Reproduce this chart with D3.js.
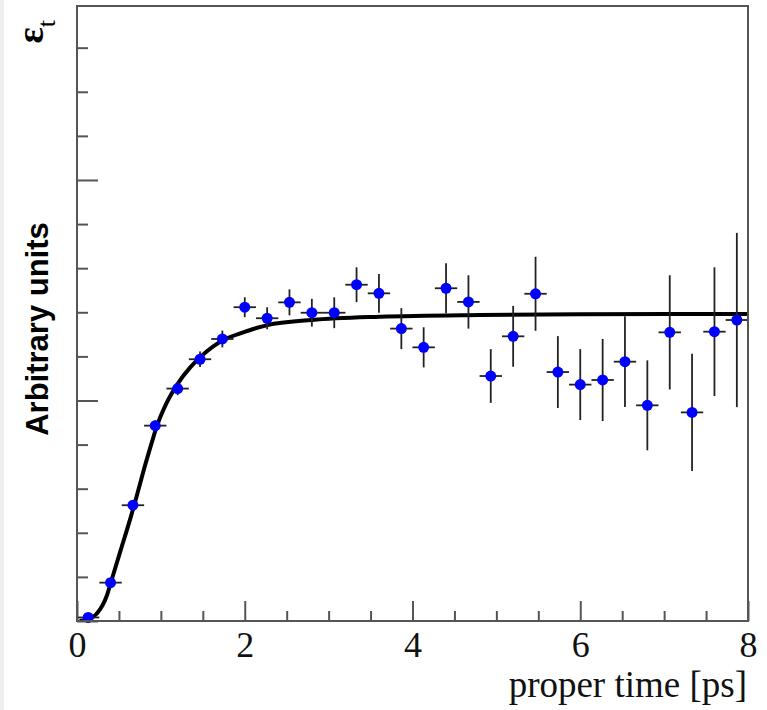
<!DOCTYPE html>
<html>
<head>
<meta charset="utf-8">
<script src="https://cdn.jsdelivr.net/npm/d3@7/dist/d3.min.js"></script>
<style>
  html, body { margin: 0; padding: 0; background: #fff; }
  svg { display: block; }
</style>
</head>
<body>
<svg id="chart" width="767" height="710"></svg>
<script>
// ---- data ----
const timeCenters = [0.133, 0.400, 0.667, 0.933, 1.200, 1.467, 1.733, 2.000, 2.267, 2.533,
                     2.800, 3.067, 3.333, 3.600, 3.867, 4.133, 4.400, 4.667, 4.933, 5.200,
                     5.467, 5.733, 6.000, 6.267, 6.533, 6.800, 7.067, 7.333, 7.600, 7.867];
const efficiency = [0.016, 0.174, 0.525, 0.886, 1.054, 1.187, 1.279, 1.423, 1.373, 1.445,
                    1.398, 1.398, 1.525, 1.486, 1.326, 1.241, 1.509, 1.447, 1.111, 1.291,
                    1.484, 1.129, 1.072, 1.093, 1.176, 0.978, 1.309, 0.946, 1.312, 1.365];
const efficiencyErr = [0.005, 0.012, 0.018, 0.024, 0.030, 0.035, 0.038, 0.045, 0.050, 0.059,
                       0.063, 0.070, 0.079, 0.088, 0.093, 0.091, 0.113, 0.121, 0.122, 0.138,
                       0.168, 0.163, 0.161, 0.186, 0.206, 0.204, 0.259, 0.266, 0.292, 0.395];
const binHalfWidth = 0.1333;

const fitTime  = [0.03, 0.12, 0.24, 0.36, 0.40, 0.52, 0.64, 0.70, 0.80, 0.90, 0.94, 1.07,
                  1.19, 1.35, 1.48, 1.75, 1.99, 2.15, 2.27, 2.80, 3.61, 4.80, 6.00, 8.00];
const fitValue = [0.000, 0.006, 0.035, 0.120, 0.170, 0.320, 0.470, 0.550, 0.690, 0.820, 0.870, 0.990,
                  1.070, 1.150, 1.200, 1.275, 1.310, 1.330, 1.342, 1.365, 1.380, 1.388, 1.391, 1.392];

const xMajorTicks = [0, 2, 4, 6, 8];
const xMinorTicks = [0.5, 1, 1.5, 2.5, 3, 3.5, 4.5, 5, 5.5, 6.5, 7, 7.5];
const yMajorTicks = [0, 1, 2];
const yMinorTicks = [0.2, 0.4, 0.6, 0.8, 1.2, 1.4, 1.6, 1.8, 2.2, 2.4, 2.6];

const xTitle = "proper time [ps]";
const yTitle = "Arbitrary units";

// ---- layout ----
const svg = d3.select("#chart");
const plotLeft = 77, plotRight = 748, plotTop = 6, plotBottom = 621;
const axisColor = "#555555";

const x = d3.scaleLinear().domain([0, 8]).range([plotLeft, plotRight]);
const y = d3.scaleLinear().domain([0, 2.789]).range([plotBottom, plotTop]);

// faint scan strip at the far left edge
svg.append("rect").attr("x", 0).attr("y", 0).attr("width", 4).attr("height", 710)
   .attr("fill", "#eeeeee");

// clip
svg.append("clipPath").attr("id", "plotclip")
   .append("rect").attr("x", plotLeft).attr("y", plotTop)
   .attr("width", plotRight - plotLeft).attr("height", plotBottom - plotTop);

// ---- axes (ticks inside frame) ----
function styleAxis(g) {
  g.select(".domain").remove();
  g.selectAll(".tick line").attr("stroke", axisColor).attr("stroke-width", 2);
}
svg.append("g").attr("transform", `translate(0,${plotBottom})`)
   .call(d3.axisBottom(x).tickValues(xMinorTicks).tickSize(-10).tickFormat(""))
   .call(styleAxis);
const xMaj = svg.append("g").attr("transform", `translate(0,${plotBottom})`)
   .call(d3.axisBottom(x).tickValues(xMajorTicks).tickSize(-20).tickPadding(0).tickFormat(d3.format("d")))
   .call(styleAxis);
xMaj.selectAll(".tick text")
   .attr("y", 36).attr("dy", 0)
   .attr("font-family", "'Liberation Serif', 'Times New Roman', serif")
   .attr("font-size", 36).attr("fill", "#111");

svg.append("g").attr("transform", `translate(${plotLeft},0)`)
   .call(d3.axisLeft(y).tickValues(yMinorTicks).tickSize(-11).tickFormat(""))
   .call(styleAxis);
svg.append("g").attr("transform", `translate(${plotLeft},0)`)
   .call(d3.axisLeft(y).tickValues(yMajorTicks).tickSize(-21).tickFormat(""))
   .call(styleAxis);

// ---- fit curve ----
const line = d3.line()
  .x((d, i) => x(fitTime[i]))
  .y((d, i) => y(fitValue[i]))
  .curve(d3.curveMonotoneX);
svg.append("path")
   .attr("clip-path", "url(#plotclip)")
   .attr("d", line(fitTime))
   .attr("fill", "none").attr("stroke", "#000").attr("stroke-width", 4);

// ---- error bars ----
const pts = timeCenters.map((t, i) => ({ t, v: efficiency[i], e: efficiencyErr[i] }));
const eb = svg.append("g").attr("clip-path", "url(#plotclip)")
   .attr("stroke", "#222").attr("stroke-width", 1.8);
eb.selectAll("line.h").data(pts).join("line").attr("class", "h")
   .attr("x1", d => x(d.t - binHalfWidth)).attr("x2", d => x(d.t + binHalfWidth))
   .attr("y1", d => y(d.v)).attr("y2", d => y(d.v));
eb.selectAll("line.v").data(pts).join("line").attr("class", "v")
   .attr("x1", d => x(d.t)).attr("x2", d => x(d.t))
   .attr("y1", d => y(d.v - d.e)).attr("y2", d => y(d.v + d.e));

// ---- markers ----
svg.append("g").selectAll("circle").data(pts).join("circle")
   .attr("cx", d => x(d.t)).attr("cy", d => y(d.v)).attr("r", 5.5)
   .attr("fill", "#0000ff");

// ---- frame ----
svg.append("rect").attr("x", plotLeft).attr("y", plotTop)
   .attr("width", plotRight - plotLeft).attr("height", plotBottom - plotTop)
   .attr("fill", "none").attr("stroke", axisColor).attr("stroke-width", 2);

// ---- titles ----
svg.append("text")
   .attr("x", 747).attr("y", 697)
   .attr("text-anchor", "end")
   .attr("font-family", "'Liberation Serif', 'Times New Roman', serif")
   .attr("font-size", 37).attr("fill", "#111")
   .text(xTitle);

svg.append("text")
   .attr("transform", "translate(48,329) rotate(-90)")
   .attr("text-anchor", "middle")
   .attr("font-family", "'Liberation Sans', Arial, sans-serif")
   .attr("font-weight", "bold")
   .attr("font-size", 31).attr("fill", "#000")
   .text(yTitle);

const eps = svg.append("text")
   .attr("transform", "translate(43,20) rotate(-90)")
   .attr("text-anchor", "end")
   .attr("font-family", "'Liberation Serif', serif")
   .attr("font-weight", "bold")
   .attr("font-size", 38).attr("fill", "#000");
eps.append("tspan").text("ε");
eps.append("tspan").attr("dy", 12).attr("font-size", 26).attr("font-weight", "normal").text("t");
</script>
</body>
</html>
